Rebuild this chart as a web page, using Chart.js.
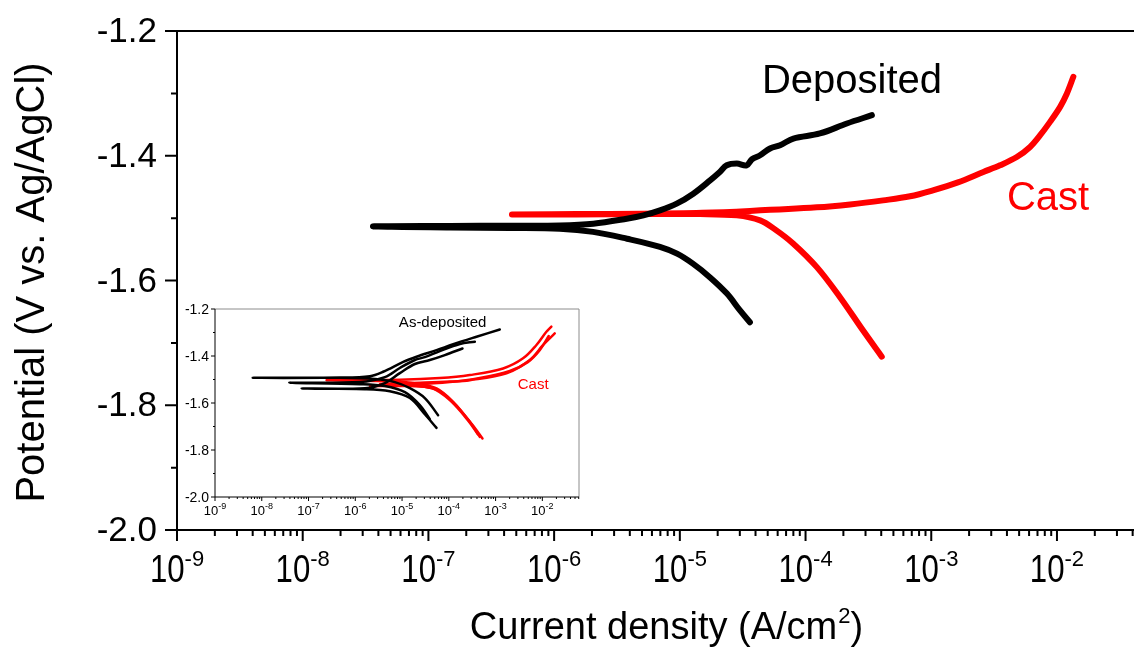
<!DOCTYPE html>
<html>
<head>
<meta charset="utf-8">
<script src="https://cdn.jsdelivr.net/npm/chart.js@4"></script>
<style>
  html, body { margin: 0; padding: 0; background: #fff; }
  #wrap { position: relative; width: 1134px; height: 657px; overflow: hidden; }
  #main { position: absolute; left: 0; top: 0; }
  #inset { position: absolute; left: 170px; top: 295px; }
</style>
</head>
<body>
<div id="wrap">
  <canvas id="main" width="1134" height="657"></canvas>
  <canvas id="inset" width="420" height="235"></canvas>
</div>
<script>
// --- main plot: one scan per sample, cathodic end -> Ecorr -> anodic end ---
const depositedI = [3.61e-5, 3.01e-5, 2.37e-5, 1.74e-5, 1.27e-5, 9.50e-6, 6.95e-6, 3.80e-6, 2.04e-6, 1.11e-6, 4.46e-7, 1.49e-7, 3.62e-8,
  1.49e-7, 4.46e-7, 1.11e-6, 2.05e-6, 3.78e-6, 5.13e-6, 6.95e-6, 9.44e-6, 1.28e-5, 1.74e-5, 2.08e-5, 2.36e-5, 2.84e-5, 3.40e-5,
  3.75e-5, 4.35e-5, 5.22e-5, 6.27e-5, 8.00e-5, 1.30e-4, 2.13e-4, 3.37e-4];
const depositedE = [-1.667, -1.648, -1.621, -1.595, -1.573, -1.557, -1.546, -1.533, -1.522, -1.517, -1.5157, -1.5149, -1.5133,
  -1.5125, -1.5121, -1.5117, -1.5089, -1.5009, -1.4956, -1.4876, -1.4768, -1.4608, -1.4395, -1.4260, -1.4153, -1.4125, -1.4153,
  -1.4056, -1.3992, -1.3884, -1.3831, -1.3724, -1.3643, -1.3483, -1.3350];

const castI = [4.04e-4, 2.87e-4, 1.88e-4, 1.23e-4, 7.96e-5, 5.71e-5, 4.35e-5, 2.84e-5, 1.45e-5, 5.0e-6, 1.5e-6, 4.62e-7,
  1.5e-6, 5.0e-6, 1.5e-5, 3.61e-5, 1.23e-4, 2.26e-4, 4.14e-4, 6.78e-4, 1.03e-3, 1.63e-3, 2.60e-3, 3.52e-3, 4.79e-3,
  6.11e-3, 7.35e-3, 8.81e-3, 1.06e-2, 1.20e-2, 1.35e-2];
const castE = [-1.7221, -1.6803, -1.6268, -1.5786, -1.5406, -1.518, -1.5036, -1.4956, -1.4935, -1.4935, -1.494, -1.494,
  -1.4935, -1.493, -1.4915, -1.4885, -1.4827, -1.478, -1.4715, -1.465, -1.4554, -1.4426, -1.426, -1.4153, -1.4021,
  -1.3859, -1.3671, -1.3457, -1.3216, -1.3001, -1.2734];

// --- inset: three repeats of each ---
const insetDepI = [
  [5.90e-5, 3.07e-5, 1.47e-5, 7.01e-6, 2.62e-6, 4.69e-7, 6.40e-9, 4.69e-7, 2.05e-6, 3.94e-6, 1.06e-5, 2.04e-5, 5.46e-5, 1.24e-4, 3.91e-4, 1.23e-3],
  [3.93e-5, 2.40e-5, 1.15e-5, 4.29e-6, 1.25e-6, 3.87e-8, 1.25e-6, 4.29e-6, 8.97e-6, 1.88e-5, 3.07e-5, 6.43e-5, 1.72e-4, 3.60e-4],
  [5.46e-5, 3.07e-5, 1.47e-5, 5.48e-6, 1.60e-6, 7.13e-8, 1.60e-6, 4.29e-6, 8.97e-6, 1.88e-5, 3.93e-5, 8.22e-5, 1.96e-4]
];
const insetDepE = [
  [-1.652, -1.579, -1.537, -1.511, -1.498, -1.493, -1.493, -1.492, -1.486, -1.467, -1.425, -1.403, -1.375, -1.350, -1.318, -1.287],
  [-1.669, -1.609, -1.554, -1.528, -1.520, -1.514, -1.511, -1.490, -1.451, -1.417, -1.405, -1.379, -1.349, -1.339],
  [-1.706, -1.648, -1.579, -1.550, -1.541, -1.538, -1.537, -1.515, -1.473, -1.434, -1.417, -1.396, -1.368]
];
const insetCastI = [
  [4.59e-4, 2.81e-4, 1.24e-4, 5.46e-5, 2.04e-5, 5.48e-6, 2.44e-7, 8.97e-6, 6.43e-5, 2.81e-4, 1.45e-3, 3.87e-3, 7.48e-3, 1.22e-2, 1.56e-2],
  [5.25e-4, 3.10e-4, 1.34e-4, 5.82e-5, 1.88e-5, 3.36e-6, 1.47e-5, 1.05e-4, 2.81e-4, 1.71e-3, 5.38e-3, 1.04e-2, 1.84e-2],
  [4.17e-4, 2.55e-4, 1.05e-4, 4.34e-5, 1.47e-5, 2.05e-6, 1.47e-5, 1.05e-4, 4.59e-4, 2.01e-3, 4.88e-3, 8.79e-3, 1.37e-2]
];
const insetCastE = [
  [-1.744, -1.680, -1.595, -1.538, -1.517, -1.507, -1.503, -1.501, -1.494, -1.481, -1.453, -1.410, -1.353, -1.297, -1.275],
  [-1.751, -1.690, -1.605, -1.545, -1.526, -1.520, -1.515, -1.509, -1.503, -1.474, -1.417, -1.353, -1.304],
  [-1.733, -1.673, -1.588, -1.537, -1.528, -1.528, -1.522, -1.511, -1.494, -1.464, -1.426, -1.375, -1.315]
];

const yTicks = [-2.0, -1.8, -1.6, -1.4, -1.2];
const yMinor = [-1.9, -1.7, -1.5, -1.3];
const xDecades = [-9, -8, -7, -6, -5, -4, -3, -2];

const FONT = '"Liberation Sans", Arial, sans-serif';

function pts(xs, ys) {
  return xs.map((v, i) => ({ x: v, y: ys[i] }));
}

function lineSet(data, color, width) {
  return {
    data: data, borderColor: color, backgroundColor: color, borderWidth: width,
    showLine: true, pointRadius: 0, tension: 0.35,
    borderCapStyle: 'round', borderJoinStyle: 'round'
  };
}

// superscript power-of-ten label centred on x
function drawPow(ctx, x, base, exp, s) {
  ctx.font = s.big + 'px ' + FONT;
  const w10 = ctx.measureText('10').width * s.sx;
  ctx.font = s.sup + 'px ' + FONT;
  const txt = String(exp);
  const ws = ctx.measureText(txt).width;
  const x0 = x - (w10 + ws) / 2;
  ctx.save();
  ctx.translate(x0, base);
  ctx.scale(s.sx, 1);
  ctx.font = s.big + 'px ' + FONT;
  ctx.fillText('10', 0, 0);
  ctx.restore();
  ctx.font = s.sup + 'px ' + FONT;
  ctx.fillText(txt, x0 + w10, base - s.raise);
}

function axesPlugin(s) {
  return {
    id: 'axes',
    afterDatasetsDraw(chart) {
      const ctx = chart.ctx, a = chart.chartArea;
      const xs = chart.scales.x, ys = chart.scales.y;
      ctx.save();
      ctx.fillStyle = '#000';
      ctx.lineCap = 'butt';

      // frame
      ctx.lineWidth = s.lw;
      if (s.boxColor) {
        ctx.strokeStyle = s.boxColor;
        ctx.beginPath();
        ctx.moveTo(a.left, a.top); ctx.lineTo(a.right, a.top); ctx.lineTo(a.right, a.bottom);
        ctx.stroke();
      }
      ctx.strokeStyle = '#000';
      ctx.beginPath();
      ctx.moveTo(a.left, a.top); ctx.lineTo(a.left, a.bottom); ctx.lineTo(a.right, a.bottom);
      if (!s.boxColor) { ctx.moveTo(a.left, a.top); ctx.lineTo(a.right, a.top); }
      ctx.stroke();

      // y ticks
      ctx.beginPath();
      yTicks.forEach(v => {
        const y = ys.getPixelForValue(v);
        ctx.moveTo(a.left - s.yLen, y); ctx.lineTo(a.left, y);
      });
      yMinor.forEach(v => {
        const y = ys.getPixelForValue(v);
        ctx.moveTo(a.left - s.yMinLen, y); ctx.lineTo(a.left, y);
      });
      // x ticks (decades + minors)
      xDecades.forEach(d => {
        for (let k = 1; k <= 9; k++) {
          const v = k * Math.pow(10, d);
          if (v > xs.max * 1.0001) continue;
          const x = xs.getPixelForValue(v);
          ctx.moveTo(x, a.bottom); ctx.lineTo(x, a.bottom + (k === 1 ? s.xLen : s.xMinLen));
        }
      });
      ctx.stroke();

      // y labels
      ctx.font = s.yFont + 'px ' + FONT;
      ctx.textAlign = 'right';
      ctx.textBaseline = 'alphabetic';
      yTicks.forEach(v => {
        const y = ys.getPixelForValue(v);
        ctx.fillText(v.toFixed(1), a.left - s.yGap, y + s.yDy);
      });
      // x labels
      ctx.textAlign = 'left';
      xDecades.forEach(d => {
        const x = xs.getPixelForValue(Math.pow(10, d));
        drawPow(ctx, x, a.bottom + s.xBase, d, s);
      });

      // text labels in data coordinates
      s.notes.forEach(n => {
        ctx.font = n.size + 'px ' + FONT;
        ctx.fillStyle = n.color;
        ctx.textAlign = 'left';
        ctx.fillText(n.text, xs.getPixelForValue(n.x), ys.getPixelForValue(n.y));
      });

      if (s.titles) s.titles(ctx, a);
      ctx.restore();
    }
  };
}

function baseOptions(pad, xMax) {
  return {
    responsive: false,
    animation: false,
    layout: { padding: pad },
    plugins: { legend: { display: false }, tooltip: { enabled: false } },
    scales: {
      x: { type: 'logarithmic', min: 1e-9, max: xMax, display: false },
      y: { type: 'linear', min: -2.0, max: -1.2, display: false }
    }
  };
}

// main chart
new Chart(document.getElementById('main'), {
  type: 'scatter',
  data: {
    datasets: [
      lineSet(pts(depositedI, depositedE), '#000000', 6),
      lineSet(pts(castI, castE), '#ff0000', 6)
    ]
  },
  options: baseOptions({ left: 177, top: 31, right: 0, bottom: 127 }, 0.041),
  plugins: [axesPlugin({
    lw: 2, yLen: 12, yMinLen: 6, xLen: 11, xMinLen: 6,
    yFont: 35, yGap: 20, yDy: 11,
    big: 38, sup: 22, sx: 0.82, raise: 16, xBase: 52,
    notes: [
      { text: 'Deposited', x: 4.5e-5, y: -1.2996, size: 40, color: '#000' },
      { text: 'Cast', x: 4.0e-3, y: -1.4876, size: 40, color: '#ff0000' }
    ],
    titles(ctx, a) {
      ctx.fillStyle = '#000';
      ctx.font = '40px ' + FONT;
      ctx.save();
      ctx.translate(44, (a.top + a.bottom) / 2 + 2);
      ctx.rotate(-Math.PI / 2);
      ctx.textAlign = 'center';
      ctx.fillText('Potential (V vs. Ag/AgCl)', 0, 0);
      ctx.restore();

      const main = 'Current density (A/cm', sup = '2', end = ')';
      ctx.font = '38px ' + FONT;
      const w1 = ctx.measureText(main).width, w3 = ctx.measureText(end).width;
      ctx.font = '22px ' + FONT;
      const w2 = ctx.measureText(sup).width;
      const cx = 666, base = 639;
      let x = cx - (w1 + w2 + w3) / 2;
      ctx.textAlign = 'left';
      ctx.font = '38px ' + FONT;
      ctx.fillText(main, x, base);
      ctx.font = '22px ' + FONT;
      ctx.fillText(sup, x + w1 + 1, base - 16);
      ctx.font = '38px ' + FONT;
      ctx.fillText(end, x + w1 + w2 + 1, base);
    }
  })]
});

// inset chart
const insetSets = [];
insetDepI.forEach((xs, i) => insetSets.push(lineSet(pts(xs, insetDepE[i]), '#000000', 2.5)));
insetCastI.forEach((xs, i) => insetSets.push(lineSet(pts(xs, insetCastE[i]), '#ff0000', 2.5)));

new Chart(document.getElementById('inset'), {
  type: 'scatter',
  data: { datasets: insetSets },
  options: baseOptions({ left: 45, top: 14, right: 11, bottom: 33 }, 0.0608),
  plugins: [axesPlugin({
    lw: 1, boxColor: '#8c8c8c', yLen: 4, yMinLen: 2, xLen: 4, xMinLen: 2,
    yFont: 14, yGap: 6, yDy: 5,
    big: 13, sup: 9, sx: 1.0, raise: 6, xBase: 18,
    notes: [
      { text: 'As-deposited', x: 8.55e-6, y: -1.277, size: 15, color: '#000' },
      { text: 'Cast', x: 2.98e-3, y: -1.542, size: 15, color: '#ff0000' }
    ]
  })]
});
</script>
</body>
</html>
